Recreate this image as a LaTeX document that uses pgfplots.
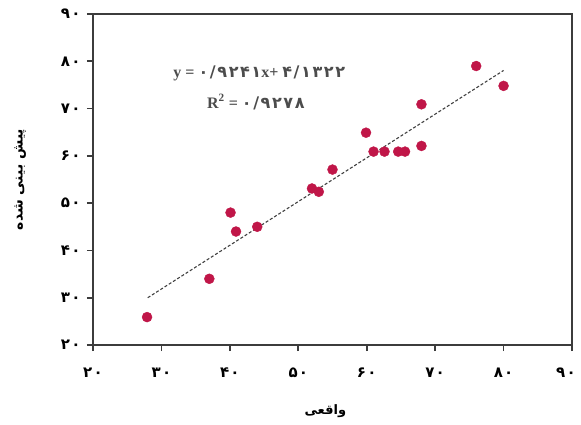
\documentclass[border=0pt]{standalone}
\usepackage{pgfplots}
\pgfplotsset{compat=1.18}
\usepackage{fontspec}
\setmainfont{Liberation Serif}
\newfontfamily\fa[Script=Arabic]{DejaVu Sans}
\newfontfamily\fad[Script=Arabic,LetterSpace=10]{DejaVu Sans}
\TeXXeTstate=1
\definecolor{dot}{RGB}{192,22,72}
\definecolor{axc}{RGB}{60,60,60}
\newcommand{\pn}[2]{#1\kern1.2pt#2}
\begin{document}
\begin{tikzpicture}
\useasboundingbox (0,0) rectangle (581pt,424pt);
\begin{axis}[
  at={(93pt,79pt)}, anchor=south west,
  scale only axis, width=479pt, height=331pt,
  xmin=20, xmax=90, ymin=20, ymax=90,
  xtick={20,30,...,90}, ytick={20,30,...,90},
  xticklabels={{\pn{۲}{۰}},{\pn{۳}{۰}},{\pn{۴}{۰}},{\pn{۵}{۰}},{\pn{۶}{۰}},{\pn{۷}{۰}},{\pn{۸}{۰}},{\kern-12pt\pn{۹}{۰}}},
  yticklabels={{\pn{۲}{۰}},{\pn{۳}{۰}},{\pn{۴}{۰}},{\pn{۵}{۰}},{\pn{۶}{۰}},{\pn{۷}{۰}},{\pn{۸}{۰}},{\pn{۹}{۰}}},
  tick label style={font=\fa\bfseries\fontsize{15}{17}\selectfont},
  xticklabel style={yshift=-13pt},
  yticklabel style={xshift=-3pt},
  tick align=outside, xtick pos=bottom, ytick pos=left,
  major tick length=6pt,
  tick style={line width=1.6pt, draw=axc},
  axis line style={line width=2.2pt, draw=axc},
  xlabel={\fa\bfseries\fontsize{13}{15}\selectfont\beginR واقعی\endR},
  ylabel={\fa\bfseries\fontsize{14}{16}\selectfont\beginR پیش بینی شده\endR},
  xlabel style={at={(axis description cs:0.485,-0.2)}, anchor=center},
  ylabel style={at={(axis description cs:-0.152,0.5)}, anchor=center},
  clip=false,
]
\addplot[only marks, mark=*, mark size=5pt, mark options={fill=dot, draw=dot}] coordinates {
(27.9,25.9) (37.0,34.0) (40.1,48.0) (40.9,44.0) (44.0,45.0)
(52.0,53.1) (53.0,52.4) (55.0,57.1) (59.9,64.9)
(61.0,60.9) (62.6,60.9) (64.6,60.9) (65.6,60.9)
(68.0,62.1) (68.0,70.9) (76.0,79.0) (80.0,74.8)
};
\addplot[no marks, draw=black!75, line width=1.1pt, dash pattern=on 3pt off 2pt] coordinates {(28,30.0) (80,78.06)};
\node[text=black!70, font=\bfseries\fontsize{16}{18}\selectfont] at (axis cs:44.3,77.5) {y = {\fad ۰/۹۲۴۱}x+ {\fad ۴/۱۳۲۲}};
\node[text=black!70, font=\bfseries\fontsize{16}{18}\selectfont] at (axis cs:43.8,71.4) {R\textsuperscript{2} = {\fad ۰/۹۲۷۸}};
\end{axis}
\end{tikzpicture}
\end{document}
